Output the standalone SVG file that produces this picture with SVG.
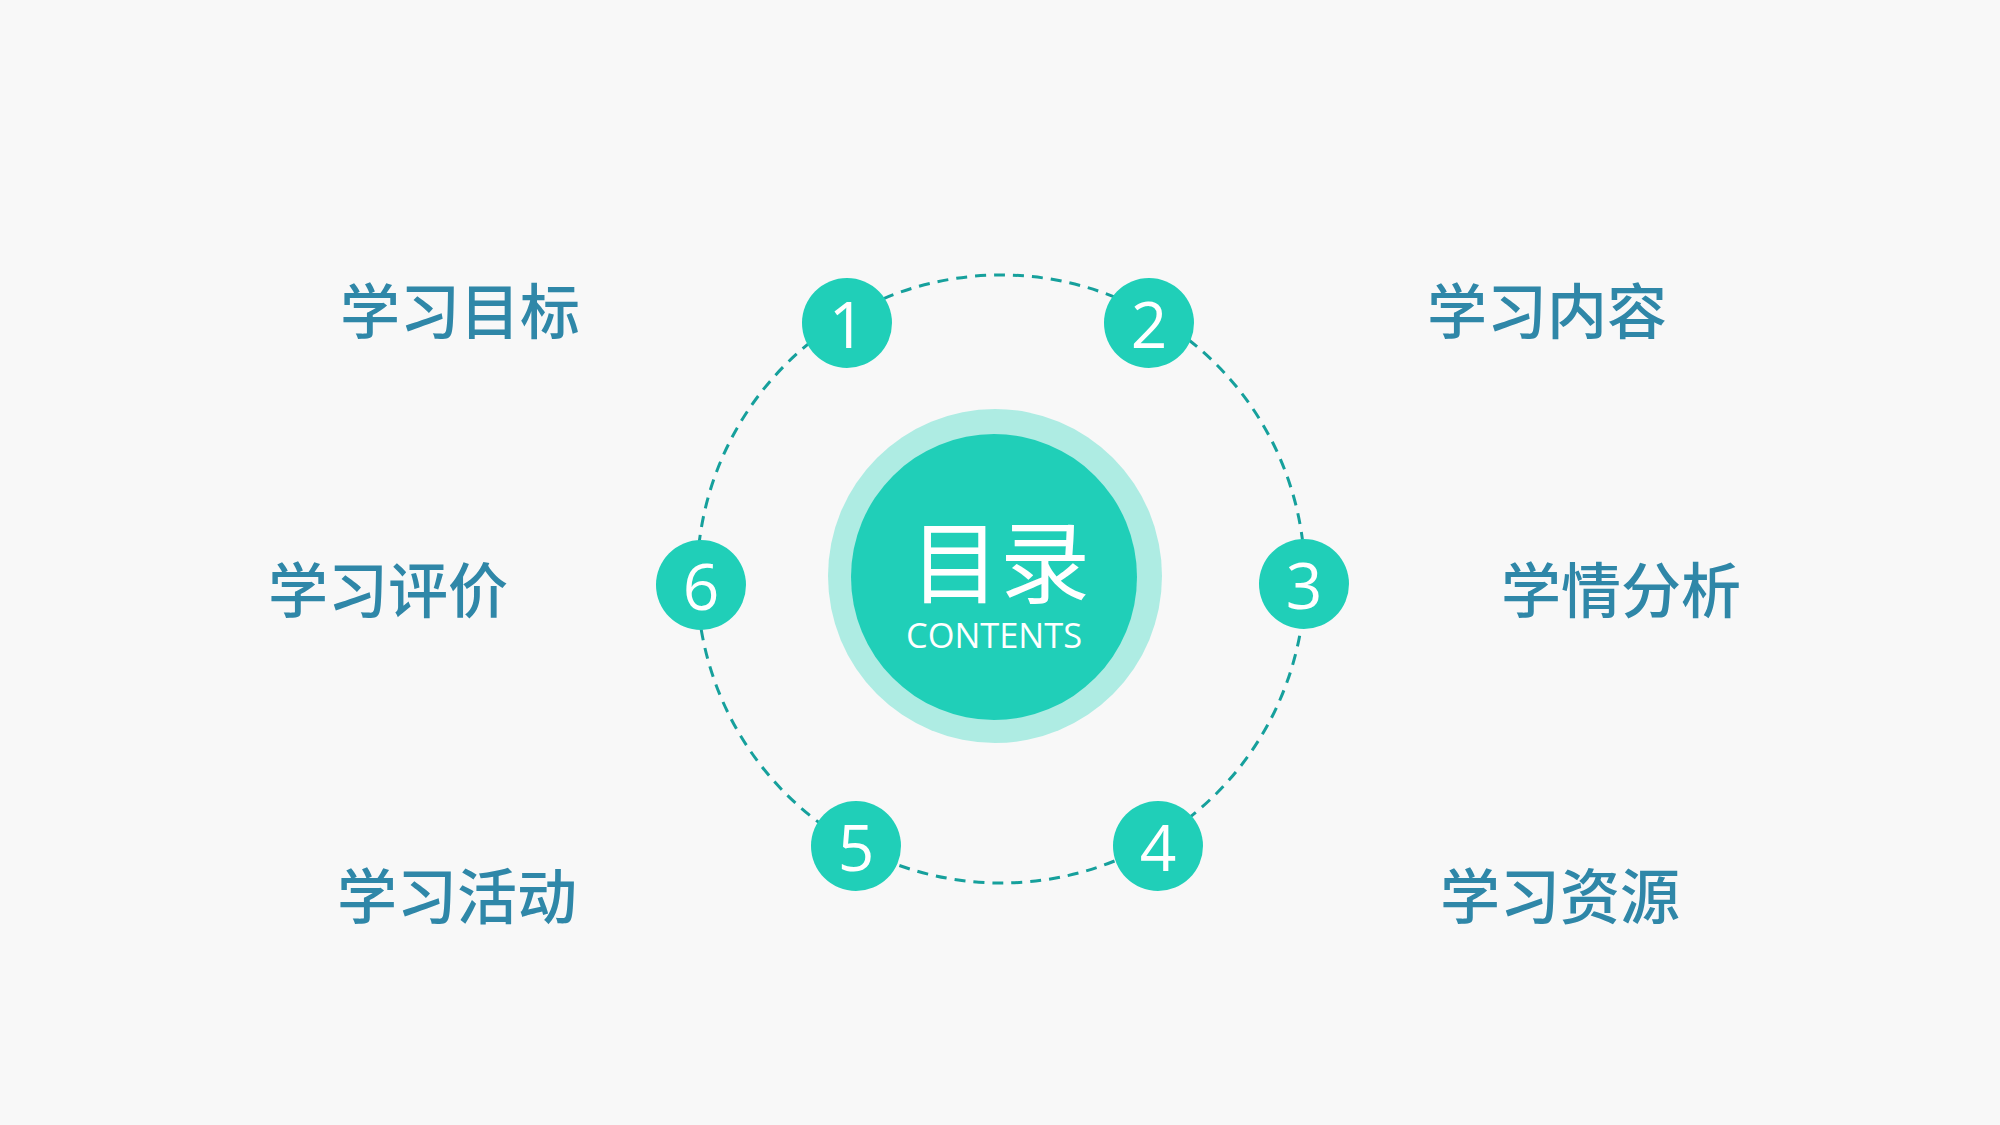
<svg xmlns="http://www.w3.org/2000/svg" width="2000" height="1125" viewBox="0 0 2000 1125">
  <style>
    .num { fill: #20cfb8; }
    .numtxt { font-family: "Open Sans", "Noto Sans", sans-serif; font-size: 64px; fill: #ffffff; text-anchor: middle; }
    .label { font-family: "Noto Sans CJK SC", "Noto Sans", sans-serif; font-size: 60px; font-weight: 500; fill: #2f87a8; text-anchor: middle; }
    .ring { fill: none; stroke: #16a09c; stroke-width: 3; stroke-dasharray: 11 8; }
  </style>
  <rect x="0" y="0" width="2000" height="1125" fill="#f8f8f8"/>
  <g id="connectors">
    <circle class="ring" cx="1001" cy="579" r="304"/>
  </g>
  <g id="center">
    <circle cx="995" cy="576" r="167" fill="#aeece3"/>
    <circle cx="994" cy="577" r="143" fill="#20cfb8"/>
    <text x="1000" y="596" font-family="'Noto Sans CJK SC', sans-serif" font-size="90" fill="#ffffff" text-anchor="middle">目录</text>
    <text x="994" y="648" font-family="'Open Sans', 'Noto Sans', sans-serif" font-size="35" fill="#ffffff" text-anchor="middle" textLength="176" lengthAdjust="spacingAndGlyphs">CONTENTS</text>
  </g>
  <g id="node1">
    <circle class="num" cx="847" cy="323" r="45"/>
    <text class="numtxt" x="847" y="348">1</text>
  </g>
  <g id="node2">
    <circle class="num" cx="1149" cy="323" r="45"/>
    <text class="numtxt" x="1149" y="348">2</text>
  </g>
  <g id="node3">
    <circle class="num" cx="1304" cy="584" r="45"/>
    <text class="numtxt" x="1304" y="609">3</text>
  </g>
  <g id="node4">
    <circle class="num" cx="1158" cy="846" r="45"/>
    <text class="numtxt" x="1158" y="871">4</text>
  </g>
  <g id="node5">
    <circle class="num" cx="856" cy="846" r="45"/>
    <text class="numtxt" x="856" y="871">5</text>
  </g>
  <g id="node6">
    <circle class="num" cx="701" cy="585" r="45"/>
    <text class="numtxt" x="701" y="610">6</text>
  </g>
  <g id="label1"><text class="label" x="460" y="334">学习目标</text></g>
  <g id="label2"><text class="label" x="1547" y="334">学习内容</text></g>
  <g id="label3"><text class="label" x="1621" y="613">学情分析</text></g>
  <g id="label4"><text class="label" x="1560" y="919">学习资源</text></g>
  <g id="label5"><text class="label" x="457" y="919">学习活动</text></g>
  <g id="label6"><text class="label" x="388" y="613">学习评价</text></g>
</svg>
